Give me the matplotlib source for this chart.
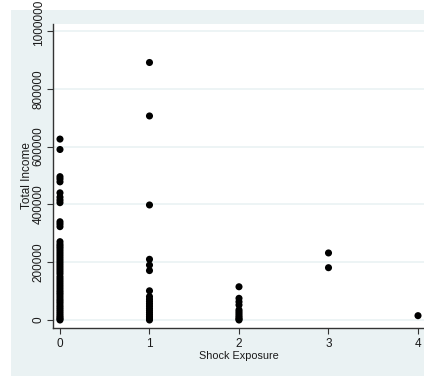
import matplotlib.pyplot as plt
import matplotlib.transforms as mtransforms
from matplotlib.patches import Rectangle

plt.rcParams['font.family'] = ['Liberation Sans', 'DejaVu Sans']

# income values per shock-exposure level
income_0 = [626000, 590000, 496000, 488000, 478000, 440000, 425000, 415000, 406000,
            340000, 332000, 323000, 271000, 262000, 255000, 248000, 240000, 232000,
            224000, 216000, 208000, 200000, 192000, 184000, 176000, 168000, 160000,
            150000, 142000, 134000, 126000, 118000, 110000, 102000, 95000, 88000,
            80000, 72000, 65000, 58000, 50000, 43000, 36000, 29000, 22000, 15000,
            9000, 4000, 0]
income_1 = [891000, 706000, 398000, 210000, 190000, 171000, 101000, 81000, 72000,
            64000, 56000, 48000, 40000, 33000, 26000, 19000, 12000, 6000, 0]
income_2 = [115000, 75000, 63000, 52000, 35000, 28000, 21000, 14000, 8000, 3000, 0]
income_3 = [232000, 181000]
income_4 = [15000]

groups = [income_0, income_1, income_2, income_3, income_4]
xticks = [0, 1, 2, 3, 4]
yticks = [0, 200000, 400000, 600000, 800000, 1000000]

bg = '#eaf2f3'
txt = '#1a1a1a'
fig = plt.figure(figsize=(4.24, 3.76), dpi=100, facecolor='white')
fig.patches.append(Rectangle((11 / 424, 0), 1, 366 / 376, transform=fig.transFigure,
                             facecolor=bg, edgecolor='none', zorder=-1))
ax = fig.add_axes([53 / 424, 48 / 376, 371 / 424, 304 / 376])
ax.set_facecolor('white')

for level, vals in zip(xticks, groups):
    ax.scatter([level] * len(vals), vals, s=26, color='black', edgecolors='none', zorder=3)

ax.set_xlim(-0.078, 4.067)
ax.set_ylim(-27700, 1024200)
ax.set_xticks(xticks)
ax.set_yticks(yticks)
ax.set_yticklabels([str(v) for v in yticks], rotation=90, va='center')
ax.grid(axis='y', color=bg, linewidth=1.2, zorder=0)
ax.set_axisbelow(True)

for side in ['top', 'right']:
    ax.spines[side].set_visible(False)
for side in ['left', 'bottom']:
    ax.spines[side].set_color('#333333')
    ax.spines[side].set_linewidth(1.0)
ax.tick_params(direction='out', length=4, width=0.8, color='#333333',
               labelsize=8.5, labelcolor=txt)
ax.tick_params(axis='x', pad=3)
ax.tick_params(axis='y', pad=2)

# top label sits a bit higher in the original
top_lbl = ax.get_yticklabels()[-1]
top_lbl.set_transform(top_lbl.get_transform() +
                      mtransforms.ScaledTranslation(0, 8 / 100, fig.dpi_scale_trans))

ax.set_xlabel('Shock Exposure', fontsize=7.8, labelpad=1, color=txt)
ax.set_ylabel('Total Income', fontsize=8.5, labelpad=0, color=txt)

fig.savefig('out.png', dpi=100, facecolor='white')
